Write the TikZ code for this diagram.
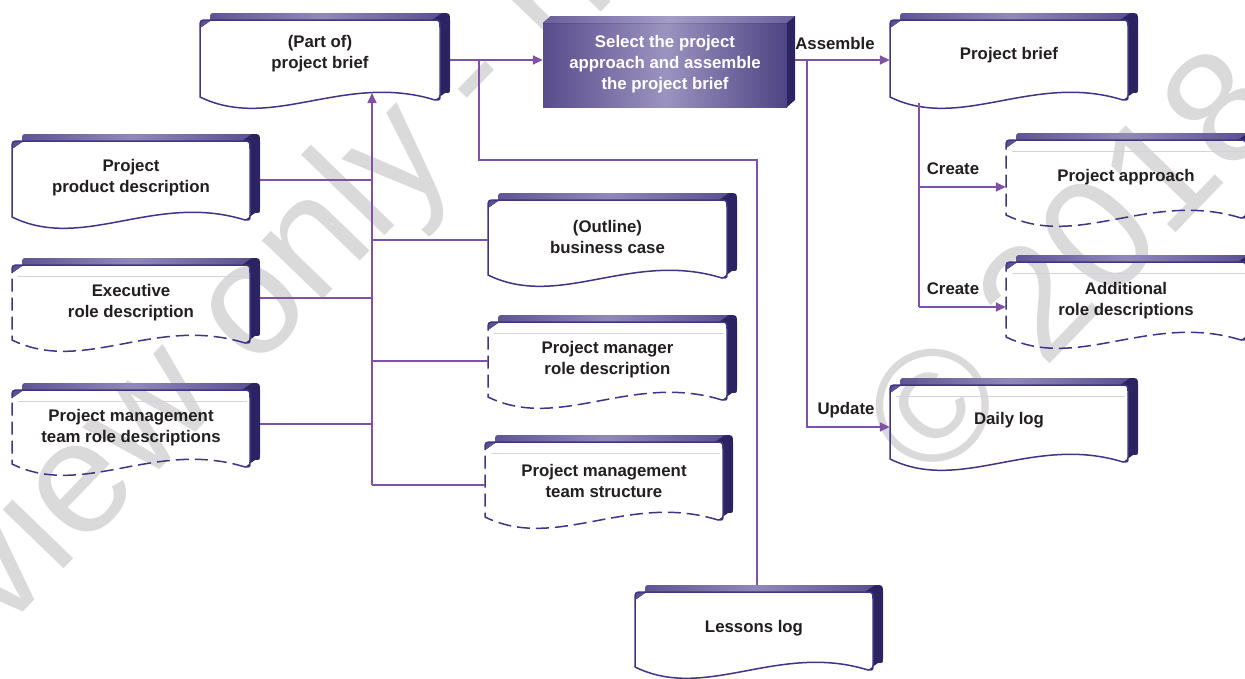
\documentclass[tikz,border=0pt]{standalone}
\usepackage{fontspec}
\setmainfont{Liberation Sans}
\usetikzlibrary{arrows.meta}
\definecolor{outl}{HTML}{3F3585}
\definecolor{bandD}{HTML}{2C2462}
\definecolor{bandL}{HTML}{5B5090}
\definecolor{bandM}{HTML}{9089B8}
\definecolor{connc}{HTML}{7F52A6}
\definecolor{txt}{HTML}{231F20}
\definecolor{wmc}{HTML}{DADADA}
\definecolor{procL}{HTML}{584C8C}
\definecolor{procM}{HTML}{9B93BF}
\definecolor{procR}{HTML}{4F4484}
\definecolor{procTL}{HTML}{6A609C}
\definecolor{procTM}{HTML}{A39CC6}
\definecolor{innerc}{HTML}{D4D1E4}
\tikzset{
  outline/.style={draw=outl, line width=1.5pt},
  dashout/.style={outline, dash pattern=on 13pt off 6pt},
  conn/.style={draw=connc, line width=1.6pt},
  arr/.style={conn, -{Triangle[length=10pt,width=9pt]}},
  lbl/.style={font=\fontsize{16.8}{21}\selectfont\bfseries, text=txt, inner sep=0pt, align=center},
  wlbl/.style={lbl, text=white},
  wm/.style={font=\fontsize{160}{160}\selectfont, text=wmc, rotate=46, inner sep=0pt},
  innerline/.style={draw=innerc, line width=0.7pt}
}
\def\ddx{10}
\def\ddy{7}
\newcommand\docshape[8]{%
  \pgfmathsetmacro\dsA{#2}\pgfmathsetmacro\dsB{#3}%
  \pgfmathsetmacro\dsC{#4}\pgfmathsetmacro\dsD{#5}%
  \pgfmathsetmacro\dsW{\dsC-\dsA}%
  \fill[left color=bandL,right color=bandL,middle color=bandM]
    (\dsA,{\dsB+8}) .. controls (\dsA,\dsB) .. ({\dsA+8},\dsB) -- ({\dsC-8},\dsB)
    -- ({\dsC-8+\ddx},{\dsB-\ddy}) -- ({\dsA+8+\ddx},{\dsB-\ddy})
    .. controls ({\dsA+\ddx},{\dsB-\ddy}) .. ({\dsA+\ddx},{\dsB-\ddy+8}) -- cycle;
  \fill[bandD] ({\dsC-8},\dsB) .. controls (\dsC,\dsB) .. (\dsC,{\dsB+8}) -- (\dsC,{\dsD-5})
    .. controls (\dsC,\dsD) .. ({\dsC-5},\dsD) -- ({\dsC-5+\ddx},{\dsD-\ddy})
    .. controls ({\dsC+\ddx},{\dsD-\ddy}) .. ({\dsC+\ddx},{\dsD-\ddy-5})
    -- ({\dsC+\ddx},{\dsB-\ddy+8}) .. controls ({\dsC+\ddx},{\dsB-\ddy}) .. ({\dsC+\ddx-8},{\dsB-\ddy}) -- cycle;
  \draw[outline] (\dsA,{\dsB+8}) .. controls (\dsA,\dsB) .. ({\dsA+8},\dsB) -- ({\dsC-8},\dsB)
    .. controls (\dsC,\dsB) .. (\dsC,{\dsB+8}) -- (\dsC,{\dsD-5}) .. controls (\dsC,\dsD) .. ({\dsC-5},\dsD);
  \draw[#6] ({\dsC-5},\dsD) .. controls ({\dsA+0.6*\dsW},{\dsD-28}) and ({\dsA+0.3*\dsW},{\dsD+32}) .. (\dsA,{\dsD-3})
    -- (\dsA,{\dsB+8});
  \node[inner sep=0pt, minimum width={\dsC+\ddx-\dsA}, minimum height={\dsD-\dsB}] (#1)
    at ({(\dsA+\dsC+\ddx)/2},{(\dsB+\dsD)/2}) {};
  \node[lbl] (#1-t) at ({(\dsA+\dsC)/2},#7) {#8};
}
\newcommand\inline[3]{\draw[innerline] ({#1+6},{#2+11}) -- ({#3-3},{#2+11});}
\begin{document}
\begin{tikzpicture}[x=1pt,y=-1pt]
\useasboundingbox (0,0) rectangle (1245,678);
\clip (0,0) rectangle (1245,678);
\fill[white] (0,0) rectangle (1245,678);
% watermark
\node[wm] (wm1) at (240,327) {Preview only - not};
\node[wm] (wm2) at (1072,262) {\textcopyright{} 2018};
% process box
\fill[left color=procL, right color=procR, middle color=procM] (543,23) rectangle (787,107);
\fill[left color=procTL, right color=procTL, middle color=procTM] (543,23) -- (551,16) -- (795,16) -- (787,23) -- cycle;
\fill[bandD] (787,23) -- (795,16) -- (795,100) -- (787,107) -- cycle;
\node[inner sep=0pt, minimum width=252, minimum height=91] (proc) at (669,61.5) {};
\node[wlbl] (proc-t) at (665,64.5) {Select the project\\approach and assemble\\the project brief};
% documents
\docshape{pb}{200}{20}{440}{100}{outline}{54}{(Part of)\\project brief}
\docshape{pbr}{890}{20}{1128}{100}{outline}{55}{Project brief}
\docshape{ppd}{12}{141}{250}{220}{outline}{177.5}{Project\\product description}
\inline{12}{265}{250}
\docshape{exe}{12}{265}{250}{343}{dashout}{303}{Executive\\role description}
\inline{12}{390}{250}
\docshape{pmtr}{12}{390}{250}{467}{dashout}{427.5}{Project management\\team role descriptions}
\docshape{bc}{488}{200}{727}{278}{outline}{237}{(Outline)\\business case}
\inline{488}{322}{727}
\docshape{pmr}{488}{322}{727}{400}{dashout}{360}{Project manager\\role description}
\inline{485}{442}{723}
\docshape{pmts}{485}{442}{723}{520}{dashout}{480.5}{Project management\\team structure}
\inline{1006}{140}{1250}
\docshape{pa}{1006}{140}{1246}{218}{dashout}{177}{Project approach}
\inline{1006}{262}{1250}
\docshape{ard}{1006}{262}{1246}{340}{dashout}{301}{Additional\\role descriptions}
\inline{890}{385}{1128}
\docshape{dl}{890}{385}{1128}{462}{outline}{420}{Daily log}
\docshape{ll}{635}{592}{873}{670}{outline}{628}{Lessons log}
% connectors
\coordinate (tb) at (372,485);
\coordinate (tt) at (372,93);
\draw[arr] (tb) -- (tt);
\coordinate (j1) at (372,180);
\draw[conn] (j1 -| ppd.east) -- (j1);
\coordinate (j2) at (372,298);
\draw[conn] (j2 -| exe.east) -- (j2);
\coordinate (j3) at (372,424);
\draw[conn] (j3 -| pmtr.east) -- (j3);
\coordinate (j4) at (372,240);
\draw[conn] (j4) -- (j4 -| bc.west);
\coordinate (j5) at (372,361);
\draw[conn] (j5) -- (j5 -| pmr.west);
\draw[conn] (tb) -- (tb -| pmts.west);
\draw[arr] (pb.east) -- (pb.east -| proc.west);
\coordinate (k1) at (479,60);
\coordinate (k2) at (757,160);
\coordinate (k3) at (757,585);
\draw[conn] (k1) |- (k2) -- (k3);
\draw[arr] (proc.east |- pb.east) -- (pbr.west);
\coordinate (u1) at (807,60);
\coordinate (u2) at (807,427);
\draw[arr] (u1) -- (u2) -- (u2 -| dl.west);
\coordinate (c1) at (919,103);
\coordinate (c2) at (919,187);
\coordinate (c3) at (919,307);
\draw[conn] (c1) -- (c3);
\draw[arr] (c2) -- (c2 -| pa.west);
\draw[arr] (c3) -- (c3 -| ard.west);
% labels
\node[lbl] (lasm) at (835,43) {Assemble};
\node[lbl] (lupd) at (846,410) {Update};
\node[lbl] (lcr1) at (953,169) {Create};
\node[lbl] (lcr2) at (953,289) {Create};
\end{tikzpicture}
\end{document}
